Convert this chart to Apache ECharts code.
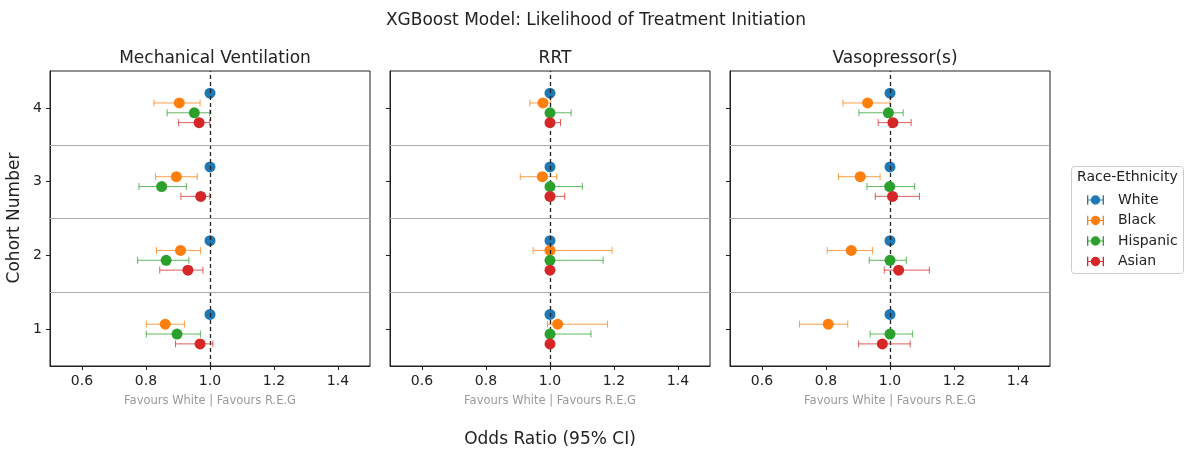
<!DOCTYPE html>
<html>
<head>
<meta charset="utf-8">
<title>XGBoost forest plot</title>
<script src="https://cdn.jsdelivr.net/npm/echarts@6/dist/echarts.min.js"></script>
<style>
  html, body { margin: 0; padding: 0; background: #fff; }
  #main { width: 1185px; height: 455px; }
</style>
</head>
<body>
<div id="main"></div>
<script>
// categories
const panels = ['Mechanical Ventilation', 'RRT', 'Vasopressor(s)']
const races = ['White', 'Black', 'Hispanic', 'Asian']
const cohorts = [1, 2, 3, 4]
const raceOffset = [0.2, 0.0667, -0.0667, -0.2]
const xTicks = [0.6, 0.8, 1.0, 1.2, 1.4]

// odds ratios, rows = race, cols = cohort 1..4
const mechOR = [[1, 1, 1, 1], [0.860, 0.908, 0.895, 0.904], [0.897, 0.863, 0.849, 0.951], [0.969, 0.931, 0.971, 0.966]]
const mechLo = [[1, 1, 1, 1], [0.801, 0.833, 0.830, 0.825], [0.801, 0.774, 0.778, 0.866], [0.892, 0.843, 0.909, 0.902]]
const mechHi = [[1, 1, 1, 1], [0.920, 0.970, 0.960, 0.969], [0.970, 0.934, 0.926, 0.999], [1.009, 0.978, 0.999, 0.999]]

const rrtOR = [[1, 1, 1, 1], [1.024, 1.0, 0.976, 0.978], [1, 1, 1, 1], [1, 1, 1, 1]]
const rrtLo = [[1, 1, 1, 1], [0.992, 0.947, 0.907, 0.937], [1, 1, 1, 1], [1, 1, 1, 1]]
const rrtHi = [[1, 1, 1, 1], [1.180, 1.194, 1.021, 1.002], [1.128, 1.166, 1.101, 1.066], [1.0, 1.0, 1.046, 1.033]]

const vasoOR = [[1, 1, 1, 1], [0.807, 0.879, 0.907, 0.930], [1.0, 1.0, 0.999, 0.995], [0.976, 1.027, 1.008, 1.009]]
const vasoLo = [[1, 1, 1, 1], [0.717, 0.804, 0.839, 0.853], [0.938, 0.935, 0.928, 0.903], [0.902, 0.982, 0.954, 0.963]]
const vasoHi = [[1, 1, 1, 1], [0.868, 0.945, 0.969, 1.0], [1.070, 1.051, 1.077, 1.041], [1.063, 1.123, 1.092, 1.066]]

const colors = ['#1f77b4', '#ff7f0e', '#2ca02c', '#d62728']
const panelData = [[mechOR, mechLo, mechHi], [rrtOR, rrtLo, rrtHi], [vasoOR, vasoLo, vasoHi]]

const font = 'DejaVu Sans'
const gridLefts = [50, 390, 730]

const myChart = echarts.init(document.getElementById('main'))

// error bar with caps
function errorBar(params, api) {
  const y = api.value(0)
  const p1 = api.coord([api.value(1), y])
  const p2 = api.coord([api.value(2), y])
  const c = 3.5
  const st = { stroke: api.visual('color'), lineWidth: 1, opacity: 0.75 }
  return {
    type: 'group',
    children: [
      { type: 'line', shape: { x1: p1[0], y1: p1[1], x2: p2[0], y2: p2[1] }, style: st },
      { type: 'line', shape: { x1: p1[0], y1: p1[1] - c, x2: p1[0], y2: p1[1] + c }, style: st },
      { type: 'line', shape: { x1: p2[0], y1: p2[1] - c, x2: p2[0], y2: p2[1] + c }, style: st }
    ]
  }
}

const grids = []
const xAxes = []
const yAxes = []
const series = []
const titles = [{
  text: 'XGBoost Model: Likelihood of Treatment Initiation',
  left: 591, top: 7, textAlign: 'center',
  textStyle: { fontFamily: font, fontSize: 17, fontWeight: 'normal', color: '#222' }
}]

panels.forEach(function (name, p) {
  grids.push({ left: gridLefts[p], width: 320, top: 71, height: 295, show: true, borderColor: '#222', borderWidth: 1 })
  titles.push({
    text: name, left: gridLefts[p] + 160, top: 45, textAlign: 'center',
    textStyle: { fontFamily: font, fontSize: 17, fontWeight: 'normal', color: '#222' }
  })
  xAxes.push({
    gridIndex: p, type: 'value', min: 0.5, max: 1.5,
    name: 'Favours White | Favours R.E.G', nameLocation: 'middle', nameGap: 29,
    nameTextStyle: { fontFamily: font, fontSize: 11.5, color: '#999' },
    axisLine: { show: true, lineStyle: { color: '#222' } },
    axisTick: { show: true, length: 4, lineStyle: { color: '#222' }, customValues: xTicks },
    axisLabel: { customValues: xTicks, fontFamily: font, fontSize: 14, color: '#222', margin: 8,
      formatter: function (v) { return v.toFixed(1) } },
    splitLine: { show: false }
  })
  yAxes.push({
    gridIndex: p, type: 'value', min: 0.5, max: 4.5,
    axisLine: { show: true, lineStyle: { color: '#222' } },
    axisTick: { show: true, length: 4, lineStyle: { color: '#222' }, customValues: cohorts },
    axisLabel: { show: p === 0, customValues: cohorts, fontFamily: font, fontSize: 14, color: '#222', margin: 8 },
    splitLine: { show: false }
  })
  const [orArr, loArr, hiArr] = panelData[p]
  // reference lines
  series.push({
    type: 'scatter', xAxisIndex: p, yAxisIndex: p, data: [], silent: true, z: 1,
    markLine: {
      symbol: 'none', silent: true, label: { show: false },
      data: [
        { xAxis: 1.0, lineStyle: { color: '#222', type: [4, 3], width: 1.3 } },
        { yAxis: 1.5, lineStyle: { color: '#aaa', type: 'solid', width: 1 } },
        { yAxis: 2.5, lineStyle: { color: '#aaa', type: 'solid', width: 1 } },
        { yAxis: 3.5, lineStyle: { color: '#aaa', type: 'solid', width: 1 } }
      ]
    }
  })
  races.forEach(function (race, r) {
    const bars = cohorts.map(function (c, i) { return [c + raceOffset[r], loArr[r][i], hiArr[r][i]] })
    const pts = cohorts.map(function (c, i) { return [orArr[r][i], c + raceOffset[r]] })
    series.push({
      type: 'custom', name: race, xAxisIndex: p, yAxisIndex: p, z: 2 + r,
      itemStyle: { color: colors[r] }, renderItem: errorBar,
      encode: { x: [1, 2], y: 0 }, data: bars, silent: true
    })
    series.push({
      type: 'scatter', name: race, xAxisIndex: p, yAxisIndex: p, z: 3 + r,
      symbol: 'circle', symbolSize: 11, itemStyle: { color: colors[r], opacity: 1 },
      data: pts
    })
  })
})

const legendIcon = 'path://M0,0h1.4v10h-1.4z M16.6,0h1.4v10h-1.4z M0,4.4h18v1.2h-18z M4,5a5,5 0 1,1 10,0a5,5 0 1,1 -10,0z'

const options = {
  backgroundColor: '#fff',
  animation: false,
  title: titles,
  grid: grids,
  xAxis: xAxes,
  yAxis: yAxes,
  legend: {
    orient: 'vertical', left: 1082, top: 188,
    itemWidth: 17, itemHeight: 10, itemGap: 6.5,
    data: races.map(function (r) { return { name: r, icon: legendIcon } }),
    textStyle: { fontFamily: font, fontSize: 14, color: '#222', padding: [0, 0, 0, 9] }
  },
  graphic: [
    { type: 'rect', shape: { x: 1071.5, y: 166.5, width: 112, height: 107, r: 3 },
      style: { fill: 'none', stroke: '#ccc', lineWidth: 1 }, z: -1 },
    { type: 'text', x: 1077, y: 177, style: { text: 'Race-Ethnicity', fontFamily: font, fontSize: 14, fill: '#222', verticalAlign: 'middle' } },
    { type: 'text', x: 550, y: 440, style: { text: 'Odds Ratio (95% CI)', fontFamily: font, fontSize: 17, fill: '#222', align: 'center', verticalAlign: 'middle' } },
    { type: 'text', x: 15, y: 218, rotation: Math.PI / 2, style: { text: 'Cohort Number', fontFamily: font, fontSize: 17, fill: '#222', align: 'center', verticalAlign: 'middle' } }
  ],
  series: series
}

myChart.setOption(options)
</script>
</body>
</html>
